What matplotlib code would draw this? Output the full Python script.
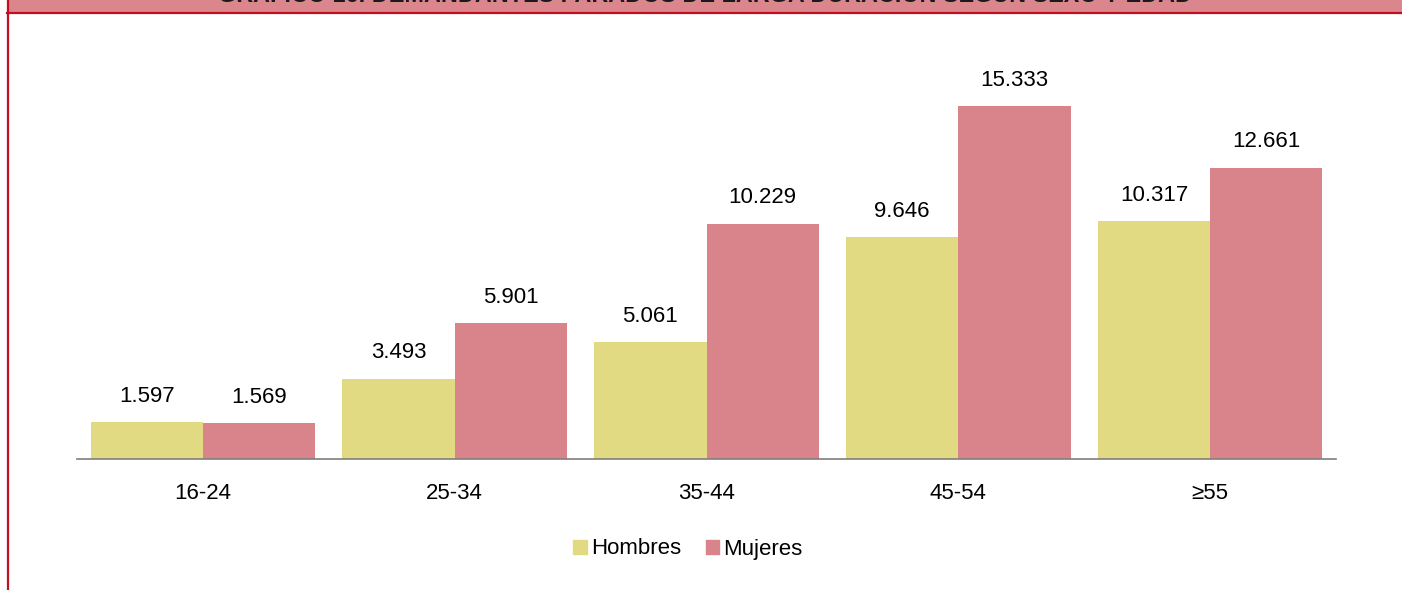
import numpy as np
import matplotlib
matplotlib.use('Agg')
import matplotlib.pyplot as plt
from matplotlib.patches import Rectangle, Patch
from matplotlib.lines import Line2D

plt.rcParams['font.family'] = ['Liberation Sans', 'DejaVu Sans']

# datos
edades = ['16-24', '25-34', '35-44', '45-54', '≥55']
hombres = [1597, 3493, 5061, 9646, 10317]
mujeres = [1569, 5901, 10229, 15333, 12661]
series = ['Hombres', 'Mujeres']
titulo = 'GRÁFICO 16. DEMANDANTES PARADOS DE LARGA DURACIÓN SEGÚN SEXO Y EDAD'

col_h = '#E2D983'
col_m = '#D9838B'
W, H = 1402, 590


def fmt(v):
    return f'{v:,}'.replace(',', '.')


fig = plt.figure(figsize=(W / 100, H / 100), dpi=100)

# ejes: x 77..1336 px, base en y=459
ax_left, ax_right = 77, 1336
ax_bottom = 459
px_per_unit = (459 - 106) / 15333
ymax = 18000
ax_top = ax_bottom - ymax * px_per_unit
ax = fig.add_axes([ax_left / W, 1 - ax_bottom / H, (ax_right - ax_left) / W, (ax_bottom - ax_top) / H])

x = np.arange(len(edades))
bw = 0.446
bh = ax.bar(x - bw / 2, hombres, bw, color=col_h, label=series[0])
bm = ax.bar(x + bw / 2, mujeres, bw, color=col_m, label=series[1])

for bars, vals in [(bh, hombres), (bm, mujeres)]:
    for b, v in zip(bars, vals):
        ax.annotate(fmt(v), (b.get_x() + b.get_width() / 2, v), xytext=(0, 18.5),
                    textcoords='offset points', ha='center', va='center', fontsize=16)

ax.set_xlim(-0.5, len(edades) - 0.5)
ax.set_ylim(0, ymax)
ax.set_xticks(x)
ax.set_xticklabels(edades, fontsize=16)
ax.tick_params(axis='x', length=0, pad=17)
ax.set_yticks([])
for s in ['top', 'right', 'left']:
    ax.spines[s].set_visible(False)
ax.spines['bottom'].set_color('#7f7f7f')
ax.spines['bottom'].set_linewidth(1.2)

fig.legend(handles=[Patch(color=col_h, label=series[0]), Patch(color=col_m, label=series[1])],
           loc='center', bbox_to_anchor=(688 / W, 1 - 549 / H), ncol=2, frameon=False,
           fontsize=16, handlelength=0.6, handleheight=0.6, handletextpad=0.2,
           columnspacing=1.1)

# barra de título y borde
fig.patches.append(Rectangle((7 / W, 1 - 12.5 / H), 1, 12.5 / H, transform=fig.transFigure,
                             facecolor='#DB868D', edgecolor='none', zorder=0))
fig.lines.append(Line2D([7 / W, 1], [1 - 12.7 / H, 1 - 12.7 / H], transform=fig.transFigure,
                        color='#C0101F', linewidth=1.6))
fig.lines.append(Line2D([7.7 / W, 7.7 / W], [0, 1], transform=fig.transFigure,
                        color='#C0101F', linewidth=1.6))
fig.text(705 / W, 1 - 1.5 / H, titulo, ha='center', va='baseline', fontsize=16.8,
         fontweight='bold', color='#1a1a1a')

fig.savefig('out.png', dpi=100)
